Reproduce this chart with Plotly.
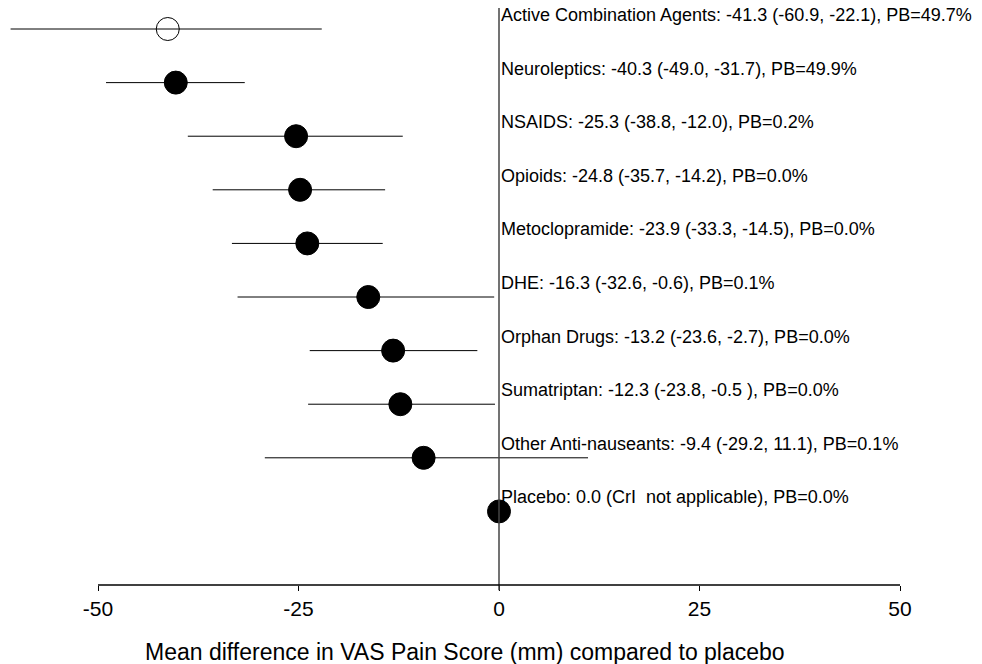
import plotly.graph_objects as go

categories = ["Active Combination Agents", "Neuroleptics", "NSAIDS", "Opioids",
              "Metoclopramide", "DHE", "Orphan Drugs", "Sumatriptan",
              "Other Anti-nauseants", "Placebo"]
means = [-41.3, -40.3, -25.3, -24.8, -23.9, -16.3, -13.2, -12.3, -9.4, 0.0]
lowers = [-60.9, -49.0, -38.8, -35.7, -33.3, -32.6, -23.6, -23.8, -29.2, 0.0]
uppers = [-22.1, -31.7, -12.0, -14.2, -14.5, -0.6, -2.7, -0.5, 11.1, 0.0]
labels = [
    "Active Combination Agents: -41.3 (-60.9, -22.1), PB=49.7%",
    "Neuroleptics: -40.3 (-49.0, -31.7), PB=49.9%",
    "NSAIDS: -25.3 (-38.8, -12.0), PB=0.2%",
    "Opioids: -24.8 (-35.7, -14.2), PB=0.0%",
    "Metoclopramide: -23.9 (-33.3, -14.5), PB=0.0%",
    "DHE: -16.3 (-32.6, -0.6), PB=0.1%",
    "Orphan Drugs: -13.2 (-23.6, -2.7), PB=0.0%",
    "Sumatriptan: -12.3 (-23.8, -0.5 ), PB=0.0%",
    "Other Anti-nauseants: -9.4 (-29.2, 11.1), PB=0.1%",
    "Placebo: 0.0 (CrI\u00a0 not applicable), PB=0.0%",
]
open_marker = [True] + [False] * 9
tick_vals = [-50, -25, 0, 25, 50]
tick_text = ["-50", "-25", "0", "25", "50"]
x_title = "Mean difference in VAS Pain Score (mm) compared to placebo"

FONT = "Liberation Sans, Arial, sans-serif"
rows = list(range(len(categories)))

fig = go.Figure()

# error bars
fig.add_trace(go.Scatter(
    x=means, y=rows, mode="markers",
    marker=dict(size=0.1, color="rgba(0,0,0,0)"),
    error_x=dict(type="data", symmetric=False,
                 array=[u - m for u, m in zip(uppers, means)],
                 arrayminus=[m - l for m, l in zip(means, lowers)],
                 color="black", thickness=1, width=0),
    showlegend=False, hoverinfo="skip"))

# points
fig.add_trace(go.Scatter(
    x=means, y=rows, mode="markers",
    marker=dict(size=23,
                symbol=["circle-open" if o else "circle" for o in open_marker],
                color="black", line=dict(color="black", width=1)),
    showlegend=False))

# reference line at 0
fig.add_shape(type="line", xref="x", yref="paper", x0=0, x1=0, y0=-0.009, y1=1,
              line=dict(color="#444444", width=1.5))
# axis line from -50 to 50
fig.add_shape(type="line", xref="x", yref="paper", x0=tick_vals[0], x1=tick_vals[-1],
              y0=0, y1=0, line=dict(color="black", width=1.3))

for r, lab in zip(rows, labels):
    fig.add_annotation(x=0, y=r, xref="x", yref="y", text=lab, showarrow=False,
                       xanchor="left", yanchor="middle", xshift=0, yshift=14,
                       font=dict(family=FONT, size=18, color="black"))

fig.add_annotation(x=464.5 / 982, y=-67 / 577, xref="paper", yref="paper",
                   text=x_title, showarrow=False, xanchor="center", yanchor="middle",
                   font=dict(family=FONT, size=23, color="black"))

fig.update_layout(
    width=982, height=664,
    margin=dict(l=0, r=0, t=8, b=79),
    plot_bgcolor="white", paper_bgcolor="white",
    font=dict(family=FONT, color="black"),
    xaxis=dict(range=[-499 / 8.02, 483 / 8.02], tickvals=tick_vals, ticktext=tick_text,
               ticks="outside", ticklen=5, tickwidth=1.3, tickcolor="black",
               showgrid=False, zeroline=False, showline=False,
               tickfont=dict(family=FONT, size=21, color="black")),
    yaxis=dict(range=[10.373, -0.392], showticklabels=False, showgrid=False,
               zeroline=False, showline=False, ticks=""),
)

fig.write_html("out.html")
